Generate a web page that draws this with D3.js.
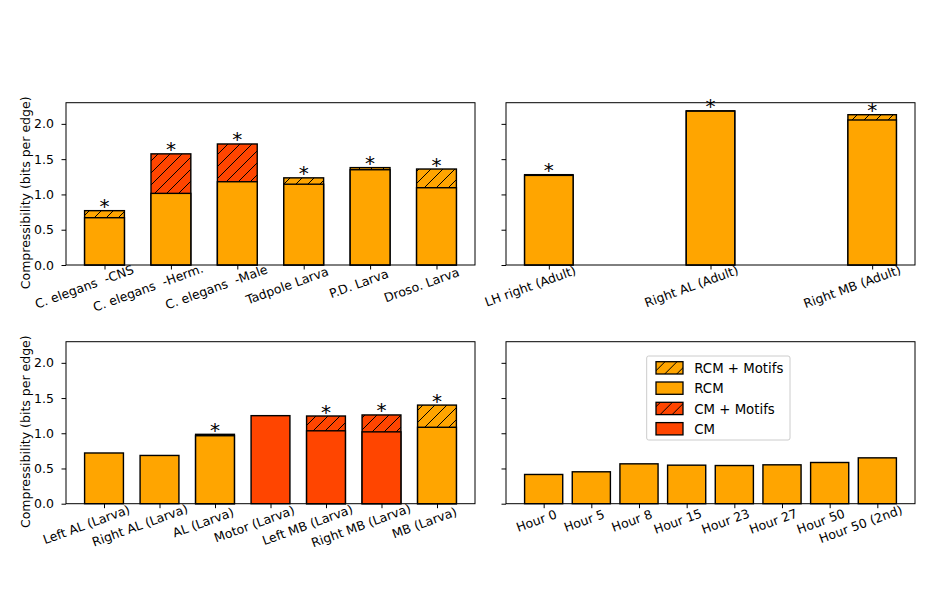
<!DOCTYPE html>
<html><head><meta charset="utf-8">
<script src="https://cdn.jsdelivr.net/npm/d3@7/dist/d3.min.js"></script>
<style>body{margin:0;background:#fff}svg{display:block}text{font-family:"DejaVu Sans",sans-serif;white-space:pre}</style>
</head><body><svg id="c" width="928" height="605"></svg>
<script>
// ---------- data ----------
const yTicks = [0, 0.5, 1.0, 1.5, 2.0];
const seriesNames = ["RCM + Motifs", "RCM", "CM + Motifs", "CM"];

const tlCats = ["C. elegans  -CNS", "C. elegans  -Herm.", "C. elegans  -Male", "Tadpole Larva", "P.D. Larva", "Droso. Larva"];
const tlRcmMotifs = [0.77, null, null, 1.235, 1.38, 1.36];
const tlRcm       = [0.67, 1.015, 1.18, 1.145, 1.35, 1.095];
const tlCmMotifs  = [null, 1.575, 1.715, null, null, null];
const tlCm        = [null, null, null, null, null, null];
const tlStar      = [true, true, true, true, true, true];

const trCats = ["LH right (Adult)", "Right AL (Adult)", "Right MB (Adult)"];
const trRcmMotifs = [1.28, 2.185, 2.13];
const trRcm       = [1.27, 2.18, 2.055];
const trCmMotifs  = [null, null, null];
const trCm        = [null, null, null];
const trStar      = [true, true, true];

const blCats = ["Left AL (Larva)", "Right AL (Larva)", "AL (Larva)", "Motor (Larva)", "Left MB (Larva)", "Right MB (Larva)", "MB (Larva)"];
const blRcmMotifs = [null, null, 0.985, null, null, null, 1.40];
const blRcm       = [0.72, 0.685, 0.965, null, null, null, 1.085];
const blCmMotifs  = [null, null, null, null, 1.245, 1.26, null];
const blCm        = [null, null, null, 1.25, 1.035, 1.02, null];
const blStar      = [false, false, true, false, true, true, true];

const brCats = ["Hour 0", "Hour 5", "Hour 8", "Hour 15", "Hour 23", "Hour 27", "Hour 50", "Hour 50 (2nd)"];
const brRcmMotifs = [null, null, null, null, null, null, null, null];
const brRcm       = [0.415, 0.453, 0.566, 0.547, 0.542, 0.552, 0.585, 0.651];
const brCmMotifs  = [null, null, null, null, null, null, null, null];
const brCm        = [null, null, null, null, null, null, null, null];
const brStar      = [false, false, false, false, false, false, false, false];

// ---------- styling ----------
const ORANGE = "#FFA500", RED = "#FF4500";
const fills = ["url(#hatchO)", ORANGE, "url(#hatchR)", RED];
const svg = d3.select("#c");
const defs = svg.append("defs");
function hatch(id, col) {
  const p = defs.append("pattern").attr("id", id).attr("patternUnits", "userSpaceOnUse")
    .attr("width", 12).attr("height", 12);
  p.append("rect").attr("width", 12).attr("height", 12).attr("fill", col);
  p.append("path").attr("d", "M0,12L12,0M-3,3L3,-3M9,15L15,9")
    .attr("stroke", "#000").attr("stroke-width", 1);
}
hatch("hatchO", ORANGE);
hatch("hatchR", RED);

const yDomain = [0, 2.3];
const panels = [
  {cats: tlCats, s: [tlRcmMotifs, tlRcm, tlCmMotifs, tlCm], star: tlStar, w: 0.6, x0: 66, x1: 475, y0: 102.7, y1: 265, ylab: true},
  {cats: trCats, s: [trRcmMotifs, trRcm, trCmMotifs, trCm], star: trStar, w: 0.3, x0: 506, x1: 915, y0: 102.7, y1: 265, ylab: false},
  {cats: blCats, s: [blRcmMotifs, blRcm, blCmMotifs, blCm], star: blStar, w: 0.7, x0: 66, x1: 475, y0: 341.7, y1: 503.7, ylab: true},
  {cats: brCats, s: [brRcmMotifs, brRcm, brCmMotifs, brCm], star: brStar, w: 0.8, x0: 506, x1: 915, y0: 341.7, y1: 503.7, ylab: false, legend: true}
];

panels.forEach(P => {
  const n = P.cats.length;
  const ext = (n - 1) + P.w, m = 0.05 * ext;
  const x = d3.scaleLinear().domain([-P.w / 2 - m, n - 1 + P.w / 2 + m]).range([P.x0, P.x1]);
  const y = d3.scaleLinear().domain(yDomain).range([P.y1, P.y0]);
  const g = svg.append("g");

  // bars
  P.cats.forEach((c, i) => {
    const items = [];
    P.s.forEach((arr, k) => { if (arr[i] != null) items.push({k, v: arr[i]}); });
    items.sort((a, b) => b.v - a.v);
    items.forEach(it => {
      g.append("rect")
        .attr("x", x(i - P.w / 2)).attr("width", x(i + P.w / 2) - x(i - P.w / 2))
        .attr("y", y(it.v)).attr("height", y(0) - y(it.v))
        .attr("fill", fills[it.k]).attr("stroke", "#000").attr("stroke-width", 1.4);
    });
    if (P.star[i] && items.length) {
      g.append("text").attr("x", x(i)).attr("y", y(items[0].v) + 2.5)
        .attr("text-anchor", "middle").attr("font-size", 20).attr("fill", "#000").text("*");
    }
  });

  // frame
  g.append("rect").attr("x", P.x0).attr("y", P.y0).attr("width", P.x1 - P.x0).attr("height", P.y1 - P.y0)
    .attr("fill", "none").attr("stroke", "#000").attr("stroke-width", 1);

  // y axis
  const ya = d3.axisLeft(y).tickValues(yTicks).tickSize(4.5).tickPadding(7.5)
    .tickFormat(P.ylab ? d3.format(".1f") : () => "");
  const yg = g.append("g").attr("transform", `translate(${P.x0},0)`).call(ya);
  yg.select(".domain").remove();
  yg.selectAll("text").attr("font-size", 12.5).attr("font-family", "DejaVu Sans").attr("fill", "#000");
  yg.selectAll("line").attr("stroke", "#000");

  // x axis
  const xa = d3.axisBottom(x).tickValues(d3.range(n)).tickSize(4.5).tickFormat(() => "");
  const xg = g.append("g").attr("transform", `translate(0,${P.y1})`).call(xa);
  xg.select(".domain").remove();
  xg.selectAll("line").attr("stroke", "#000");
  P.cats.forEach((c, i) => {
    const t = g.append("text")
      .attr("transform", `translate(${x(i)},${P.y1 + 9}) rotate(-20)`)
      .attr("xml:space", "preserve")
      .attr("font-size", 12.5).attr("fill", "#000").attr("text-anchor", "start").text(c);
    const L = t.node().getComputedTextLength();
    t.attr("x", -1.45 * L / 2).attr("y", 9.5);
  });

  if (P.ylab) {
    g.append("text").attr("transform", `translate(30,${(P.y0 + P.y1) / 2 + 9}) rotate(-90)`)
      .attr("text-anchor", "middle").attr("font-size", 12.5).attr("fill", "#000")
      .text("Compressibility (bits per edge)");
  }

  if (P.legend) {
    const lx = 646.7, ly = 356;
    const lg = g.append("g").attr("transform", `translate(${lx},${ly})`);
    lg.append("rect").attr("width", 143.3).attr("height", 84).attr("rx", 2)
      .attr("fill", "#fff").attr("stroke", "#ccc").attr("stroke-width", 1);
    seriesNames.forEach((nm, k) => {
      const ry = 5.7 + k * 20.3;
      lg.append("rect").attr("x", 9.3).attr("y", ry).attr("width", 27).attr("height", 12.3)
        .attr("fill", fills[k]).attr("stroke", "#000").attr("stroke-width", 1.3);
      lg.append("text").attr("x", 47.6).attr("y", ry + 11.3).attr("font-size", 13.3).attr("fill", "#000").text(nm);
    });
  }
});
</script></body></html>
